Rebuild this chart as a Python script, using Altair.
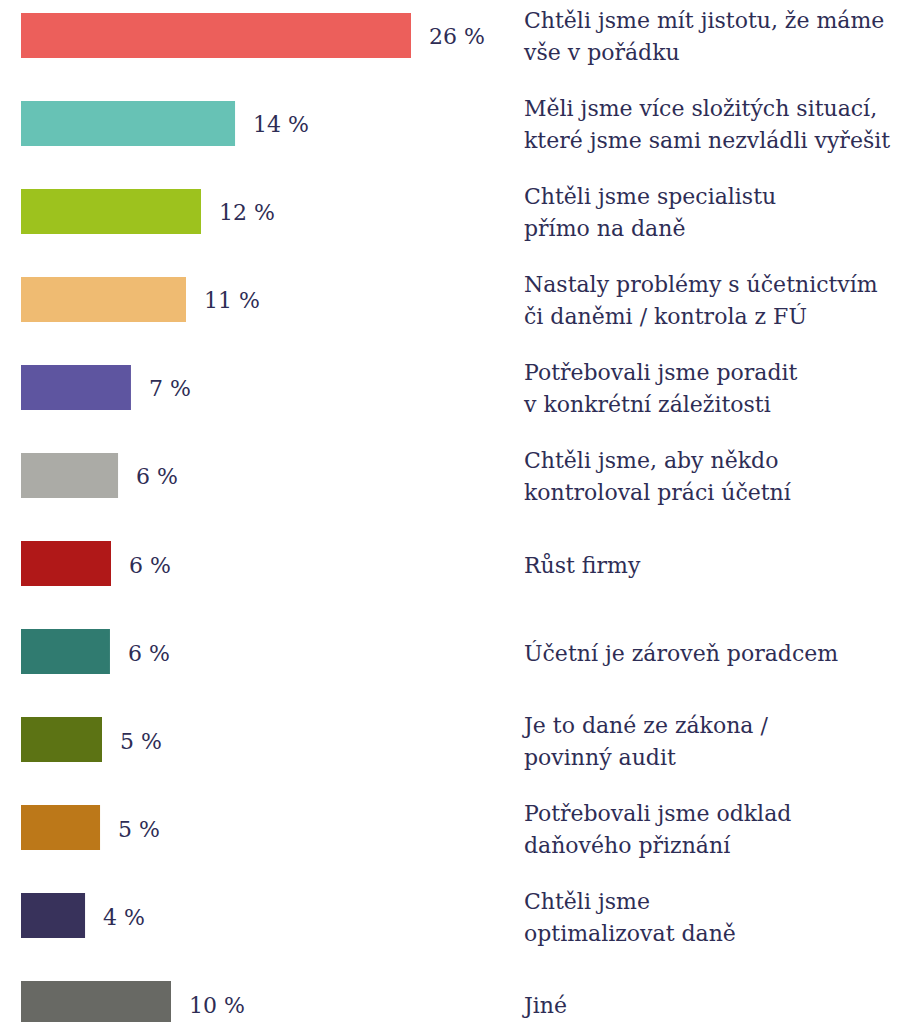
import altair as alt
import pandas as pd

categories = [
    "Chtěli jsme mít jistotu, že máme\nvše v pořádku",
    "Měli jsme více složitých situací,\nkteré jsme sami nezvládli vyřešit",
    "Chtěli jsme specialistu\npřímo na daně",
    "Nastaly problémy s účetnictvím\nči daněmi / kontrola z FÚ",
    "Potřebovali jsme poradit\nv konkrétní záležitosti",
    "Chtěli jsme, aby někdo\nkontroloval práci účetní",
    "Růst firmy",
    "Účetní je zároveň poradcem",
    "Je to dané ze zákona /\npovinný audit",
    "Potřebovali jsme odklad\ndaňového přiznání",
    "Chtěli jsme\noptimalizovat daně",
    "Jiné",
]
values = [26.0, 14.27, 12.0, 11.0, 7.33, 6.47, 6.0, 5.93, 5.4, 5.27, 4.27, 10.0]
value_labels = ["26 %", "14 %", "12 %", "11 %", "7 %", "6 %", "6 %", "6 %", "5 %", "5 %", "4 %", "10 %"]
colors = ["#EC5F5B", "#67C2B5", "#9DC21E", "#EFBB72", "#5E55A0", "#ABABA6",
          "#B01818", "#307B70", "#5C7314", "#BC7819", "#38325B", "#686964"]

df = pd.DataFrame({
    "cat": categories,
    "value": values,
    "label": value_labels,
    "color": colors,
})

FONT = "DejaVu Serif"
TEXT = "#2E2D55"

y = alt.Y("cat:N", sort=categories, axis=None,
          scale=alt.Scale(range=[0, 1013], paddingInner=0.49, paddingOuter=0))
x = alt.X("value:Q", axis=None, scale=alt.Scale(domain=[0, 58], nice=False))

bars = alt.Chart(df).mark_bar().encode(
    x=x, y=y, color=alt.Color("color:N", scale=None)
)
vlabels = alt.Chart(df).mark_text(
    align="left", baseline="middle", dx=18, dy=2, font=FONT, fontSize=22, color=TEXT
).encode(x=x, y=y, text="label:N")

base_c = alt.Chart(df).transform_calculate(
    lines="split(datum.cat, '\\n')",
    nlines="length(split(datum.cat, '\\n'))",
)
clabels1 = base_c.transform_filter("datum.nlines == 1").mark_text(
    align="left", baseline="middle", dy=2, font=FONT, fontSize=22, lineHeight=32, color=TEXT
).encode(x=alt.value(503), y=y, text="lines:N")
clabels2 = base_c.transform_filter("datum.nlines == 2").mark_text(
    align="left", baseline="middle", dy=-14, font=FONT, fontSize=22, lineHeight=32, color=TEXT
).encode(x=alt.value(503), y=y, text="lines:N")

chart = alt.layer(bars, vlabels, clabels1, clabels2).properties(
    width=870, height=1009,
    autosize=alt.AutoSizeParams(type="none"),
    padding={"left": 13, "top": 5, "right": 0, "bottom": 0},
).configure_view(stroke=None)

chart.save("out.html", embed_options={"renderer": "svg", "actions": False})
